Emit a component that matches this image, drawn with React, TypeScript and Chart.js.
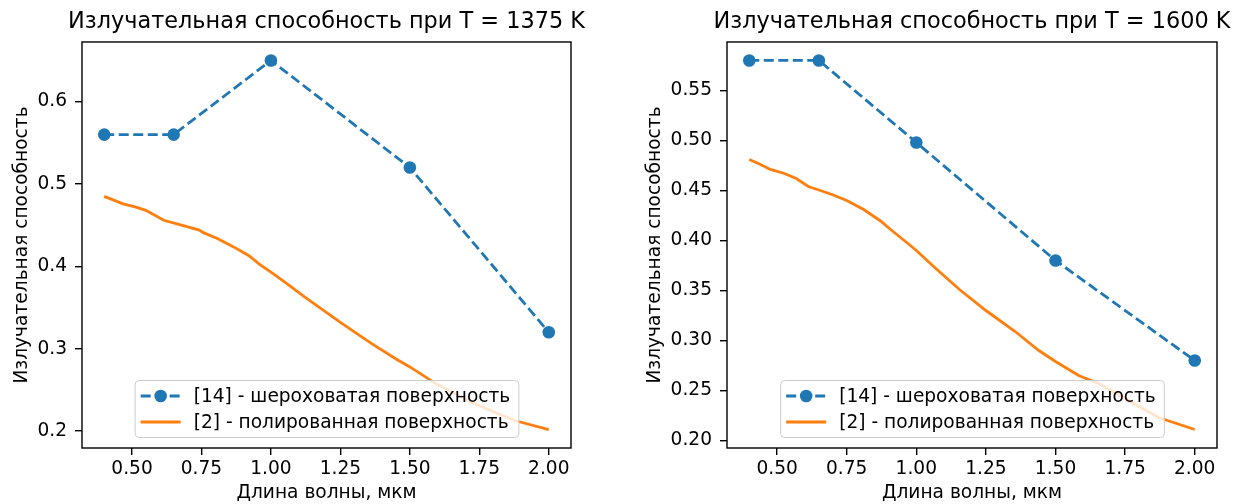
import React, { useEffect, useRef } from "react";
import { Chart, registerables } from "chart.js";

Chart.register(...registerables);

// ---------- data ----------
const xTicks = [0.5, 0.75, 1.0, 1.25, 1.5, 1.75, 2.0];

const roughX = [0.4, 0.65, 1.0, 1.5, 2.0];
const rough1375 = [0.56, 0.56, 0.65, 0.52, 0.32];
const rough1600 = [0.58, 0.58, 0.498, 0.38, 0.28];

const polishedX1375 = [0.4, 0.468, 0.514, 0.55, 0.614, 0.678, 0.742, 0.757, 0.807, 0.864, 0.921, 0.957, 1.0, 1.05, 1.121, 1.25, 1.364, 1.449, 1.5, 1.592, 1.735, 1.877, 2.0];
const polished1375 = [0.485, 0.476, 0.472, 0.468, 0.456, 0.45, 0.444, 0.441, 0.434, 0.424, 0.413, 0.403, 0.393, 0.381, 0.363, 0.332, 0.306, 0.288, 0.278, 0.258, 0.233, 0.213, 0.202];

const polishedX1600 = [0.4, 0.433, 0.476, 0.526, 0.569, 0.612, 0.655, 0.697, 0.75, 0.811, 0.869, 0.912, 0.97, 1.0, 1.07, 1.155, 1.25, 1.355, 1.44, 1.5, 1.583, 1.655, 1.75, 1.87, 2.0];
const polished1600 = [0.481, 0.477, 0.471, 0.467, 0.462, 0.454, 0.45, 0.446, 0.44, 0.431, 0.42, 0.41, 0.397, 0.39, 0.372, 0.351, 0.33, 0.309, 0.29, 0.279, 0.265, 0.257, 0.242, 0.223, 0.211];

const yTicks1375 = [0.2, 0.3, 0.4, 0.5, 0.6];
const yTicks1600 = [0.2, 0.25, 0.3, 0.35, 0.4, 0.45, 0.5, 0.55];

const title1375 = "Излучательная способность при T = 1375 K";
const title1600 = "Излучательная способность при T = 1600 K";
const xLabel = "Длина волны, мкм";
const yLabel = "Излучательная способность";
const roughLabel = "[14] - шероховатая поверхность";
const polishedLabel = "[2] - полированная поверхность";

// ---------- style ----------
const FONT = "DejaVu Sans";
const FS = 18.6;
const TFS = 22.4;
const BLUE = "#1f77b4";
const ORANGE = "#ff7f0e";

function pad(min: number, max: number) {
  const r = max - min;
  return { min: min - r * 0.05, max: max + r * 0.05 };
}

const framePlugin = {
  id: "frameLegend",
  afterDatasetsDraw(chart: any) {
    const { ctx, chartArea: a } = chart;
    ctx.save();
    // legend
    ctx.font = `${FS}px "${FONT}"`;
    const labels = chart.data.datasets.map((d: any) => d.label);
    const tw = Math.max(...labels.map((l: string) => ctx.measureText(l).width));
    const w = 59 + tw + 8;
    const h = 57;
    const x = (a.left + a.right) / 2 - w / 2;
    const y = a.bottom - 11 - h;
    ctx.beginPath();
    ctx.roundRect(x + 0.5, y + 0.5, w, h, 4);
    ctx.fillStyle = "rgba(255,255,255,0.8)";
    ctx.fill();
    ctx.strokeStyle = "#cccccc";
    ctx.lineWidth = 1;
    ctx.stroke();
    const rows = [y + 16, y + 42];
    chart.data.datasets.forEach((d: any, i: number) => {
      const ry = rows[i];
      ctx.beginPath();
      ctx.strokeStyle = d.borderColor;
      ctx.lineWidth = d.borderWidth;
      ctx.setLineDash(d.borderDash || []);
      ctx.moveTo(x + 6, ry);
      ctx.lineTo(x + 46, ry);
      ctx.stroke();
      ctx.setLineDash([]);
      if (d.pointRadius > 0) {
        ctx.beginPath();
        ctx.fillStyle = d.pointBackgroundColor;
        ctx.arc(x + 26, ry, d.pointRadius, 0, Math.PI * 2);
        ctx.fill();
      }
      ctx.fillStyle = "#000";
      ctx.textBaseline = "middle";
      ctx.textAlign = "left";
      ctx.fillText(d.label, x + 59, ry + 1);
    });
    // frame
    ctx.strokeStyle = "#000";
    ctx.lineWidth = 1.4;
    ctx.strokeRect(a.left, a.top, a.right - a.left, a.bottom - a.top);
    ctx.restore();
  },
};

function makeConfig(opts: {
  title: string;
  rough: number[];
  px: number[];
  py: number[];
  yTicks: number[];
  yDigits: number;
  yWidth: number;
  yTitlePad: number;
  rightWidth: number;
}) {
  const allY = [...opts.rough, ...opts.py];
  const yr = pad(Math.min(...allY), Math.max(...allY));
  const allX = [...roughX, ...opts.px];
  const xr = pad(Math.min(...allX), Math.max(...allX));
  return {
    type: "line",
    data: {
      datasets: [
        {
          label: roughLabel,
          data: roughX.map((x, i) => ({ x, y: opts.rough[i] })),
          borderColor: BLUE,
          backgroundColor: BLUE,
          borderWidth: 2.8,
          borderDash: [10, 4.5],
          pointRadius: 6.3,
          pointBorderWidth: 0,
          pointBackgroundColor: BLUE,
          tension: 0,
        },
        {
          label: polishedLabel,
          data: opts.px.map((x, i) => ({ x, y: opts.py[i] })),
          borderColor: ORANGE,
          backgroundColor: ORANGE,
          borderWidth: 2.8,
          pointRadius: 0,
          tension: 0,
        },
      ],
    },
    options: {
      animation: false,
      responsive: false,
      maintainAspectRatio: false,
      layout: { padding: 0 },
      plugins: {
        legend: { display: false },
        tooltip: { enabled: false },
        title: {
          display: true,
          text: opts.title,
          color: "#000",
          font: { family: FONT, size: TFS, weight: "normal" },
          padding: { top: 8.6, bottom: 6.5 },
        },
      },
      scales: {
        x: {
          type: "linear",
          min: xr.min,
          max: xr.max,
          afterBuildTicks: (s: any) => {
            s.ticks = xTicks.map((v) => ({ value: v }));
          },
          afterFit: (s: any) => {
            s.height = 56;
          },
          ticks: {
            color: "#000",
            font: { family: FONT, size: FS },
            padding: 3,
            maxRotation: 0,
            autoSkip: false,
            callback: (v: any) => Number(v).toFixed(2),
          },
          grid: { drawOnChartArea: false, drawTicks: true, tickLength: 7, color: "#000", lineWidth: 1.4 },
          border: { display: false },
          title: {
            display: true,
            text: xLabel,
            color: "#000",
            font: { family: FONT, size: FS },
            padding: { top: 0, bottom: 0 },
          },
        },
        y: {
          type: "linear",
          position: "left",
          min: yr.min,
          max: yr.max,
          afterBuildTicks: (s: any) => {
            s.ticks = opts.yTicks.map((v) => ({ value: v }));
          },
          afterFit: (s: any) => {
            s.width = opts.yWidth;
          },
          ticks: {
            color: "#000",
            font: { family: FONT, size: FS },
            padding: 8,
            autoSkip: false,
            callback: (v: any) => Number(v).toFixed(opts.yDigits),
          },
          grid: { drawOnChartArea: false, drawTicks: true, tickLength: 7, color: "#000", lineWidth: 1.4 },
          border: { display: false },
          title: {
            display: true,
            text: yLabel,
            color: "#000",
            font: { family: FONT, size: FS },
            padding: { top: opts.yTitlePad, bottom: 0 },
          },
        },
        // empty spacer on the right so the title centres over the axes
        yRight: {
          type: "linear",
          position: "right",
          min: yr.min,
          max: yr.max,
          afterFit: (s: any) => {
            s.width = opts.rightWidth;
          },
          ticks: { display: false },
          grid: { display: false, drawTicks: false },
          border: { display: false },
        },
      },
    },
    plugins: [framePlugin],
  } as any;
}

function ChartCanvas(props: { config: any; left: number; width: number }) {
  const ref = useRef<HTMLCanvasElement | null>(null);
  useEffect(() => {
    if (!ref.current) return;
    const c = new Chart(ref.current, props.config);
    return () => c.destroy();
  }, []);
  return (
    <canvas
      ref={ref}
      width={props.width}
      height={504}
      style={{ position: "absolute", left: props.left, top: 0, width: props.width, height: 504, display: "block" }}
    />
  );
}

export default function App() {
  const left = makeConfig({
    title: title1375,
    rough: rough1375,
    px: polishedX1375,
    py: polished1375,
    yTicks: yTicks1375,
    yDigits: 1,
    yWidth: 82,
    yTitlePad: 10.8,
    rightWidth: 82,
  });
  const right = makeConfig({
    title: title1600,
    rough: rough1600,
    px: polishedX1600,
    py: polished1600,
    yTicks: yTicks1600,
    yDigits: 2,
    yWidth: 105,
    yTitlePad: 21.8,
    rightWidth: 105,
  });
  return (
    <div style={{ position: "fixed", left: 0, top: 0, width: 1245, height: 504, background: "#fff", overflow: "hidden" }}>
      <ChartCanvas config={left} left={0} width={653} />
      <ChartCanvas config={right} left={622} width={700} />
    </div>
  );
}
